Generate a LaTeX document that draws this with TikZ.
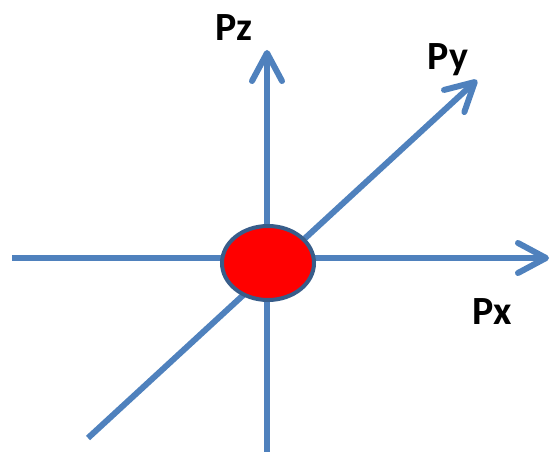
\documentclass[tikz,border=0pt]{standalone}
\usepackage{fontspec}
\setsansfont{Carlito}
\usetikzlibrary{arrows.meta,shapes.geometric}
\definecolor{axisblue}{HTML}{4F81BD}
\definecolor{rimblue}{HTML}{385D8A}

\begin{document}
\begin{tikzpicture}[x=1pt, y=-1pt,
    axis/.style={draw=axisblue, line width=6pt},
    tip/.style={-{Straight Barb[length=28pt, width=30pt, round]}},
    label/.style={font=\sffamily\bfseries\fontsize{40}{40}\selectfont, inner sep=0pt}]
    \useasboundingbox (0,0) rectangle (552,454);

    % Axes ends
    \coordinate (xfrom) at (12,258);
    \coordinate (xto) at (549,258);
    \coordinate (zfrom) at (267,452);
    \coordinate (zto) at (267,50);
    \coordinate (yfrom) at (88,438);
    \coordinate (yto) at (477,80);

    % Axes
    \draw[axis, tip] (xfrom) -- (xto);
    \draw[axis, tip] (zfrom) -- (zto);
    \draw[axis, tip] (yfrom) -- (yto);

    % Particle
    \node[ellipse, draw=rimblue, line width=4pt, fill=red,
        minimum width=92pt, minimum height=74pt] (origin) at (268,263) {};

    % Labels
    \node[label] (px) at (492,312) {Px};
    \node[label] (py) at (448,60) {Py};
    \node[label] (pz) at (234,28) {Pz};
\end{tikzpicture}
\end{document}
